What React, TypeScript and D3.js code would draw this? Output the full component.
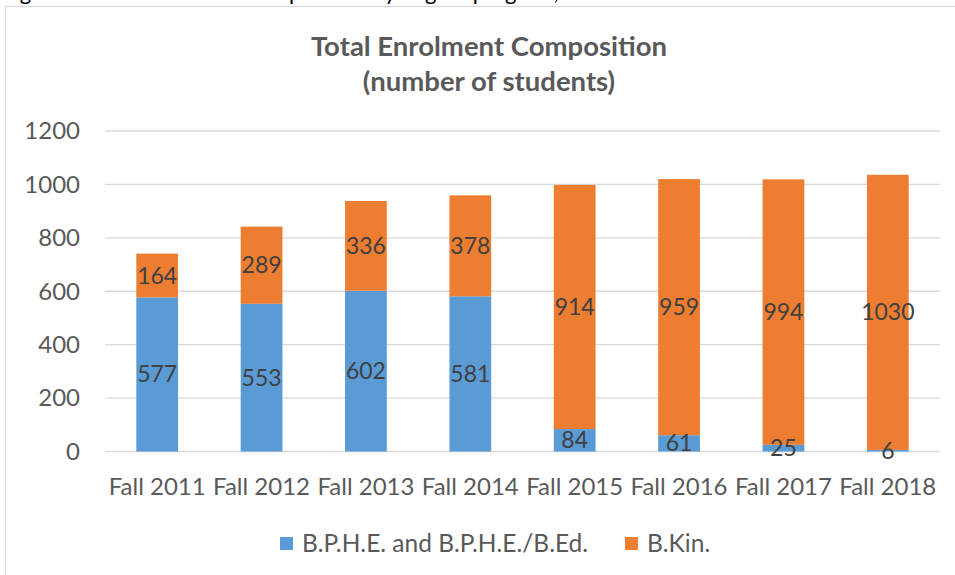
import React, { useEffect, useRef } from "react";
import * as d3 from "d3";

const categories = ["Fall 2011", "Fall 2012", "Fall 2013", "Fall 2014", "Fall 2015", "Fall 2016", "Fall 2017", "Fall 2018"];
const bphe = [577, 553, 602, 581, 84, 61, 25, 6];
const bkin = [164, 289, 336, 378, 914, 959, 994, 1030];
const seriesNames = ["B.P.H.E. and B.P.H.E./B.Ed.", "B.Kin."];
const colors = ["#5B9BD5", "#ED7D31"];
const yTicks = [0, 200, 400, 600, 800, 1000, 1200];

export default function App() {
  const ref = useRef<SVGSVGElement | null>(null);

  useEffect(() => {
    const width = 955, height = 575;
    const margin = { top: 131, right: 15, bottom: 124, left: 105 };
    const w = width - margin.left - margin.right;
    const h = height - margin.top - margin.bottom;
    const font = "Lato, 'Open Sans', sans-serif";

    const svg = d3.select(ref.current);
    svg.selectAll("*").remove();
    svg.attr("width", width).attr("height", height).attr("viewBox", `0 0 ${width} ${height}`);

    svg.append("rect").attr("width", width).attr("height", height).attr("fill", "#fff");

    // caption line above the chart, cut off by the top edge as in the source
    svg.append("text").attr("x", 2).attr("y", 0).attr("font-family", font).attr("font-size", 22).attr("fill", "#000")
      .text("Figure 4: Total enrolment composition by degree program, Fall 2011 to Fall 2018");

    // chart frame
    svg.append("rect").attr("x", 5.5).attr("y", 6.5).attr("width", width + 10).attr("height", height + 10)
      .attr("fill", "#fff").attr("stroke", "#D9D9D9").attr("stroke-width", 1.3);

    const title = svg.append("text").attr("text-anchor", "middle").attr("font-family", font)
      .attr("font-weight", "bold").attr("font-size", 27.5).attr("fill", "#595959");
    title.append("tspan").attr("x", 489).attr("y", 56).text("Total Enrolment Composition");
    title.append("tspan").attr("x", 489).attr("y", 91).text("(number of students)");

    const g = svg.append("g").attr("transform", `translate(${margin.left},${margin.top})`);

    const x = d3.scaleBand().domain(categories).range([0, w]).paddingInner(0.6).paddingOuter(0.3);
    const y = d3.scaleLinear().domain([0, 1200]).range([h + 0.5, 0]);

    g.selectAll("line.grid").data(yTicks).enter().append("line")
      .attr("x1", 0).attr("x2", w).attr("y1", d => y(d)).attr("y2", d => y(d))
      .attr("stroke", "#D9D9D9").attr("stroke-width", 1.3);

    g.selectAll("text.ytick").data(yTicks).enter().append("text")
      .attr("x", -25).attr("y", d => y(d)).attr("dy", "0.35em").attr("text-anchor", "end")
      .attr("font-family", font).attr("font-size", 24).attr("fill", "#595959").text(d => d);

    const stack = categories.map((c, i) => ({ c, vals: [bphe[i], bkin[i]] }));
    stack.forEach(d => {
      let base = 0;
      d.vals.forEach((v, k) => {
        const y0 = y(base), y1 = y(base + v);
        g.append("rect").attr("x", x(d.c)!).attr("width", x.bandwidth())
          .attr("y", y1).attr("height", y0 - y1).attr("fill", colors[k]);
        base += v;
      });
    });
    // data labels, centred on each segment
    stack.forEach(d => {
      let base = 0;
      d.vals.forEach(v => {
        g.append("text").attr("x", x(d.c)! + x.bandwidth() / 2).attr("y", y(base + v / 2)).attr("dy", "0.35em")
          .attr("text-anchor", "middle").attr("font-family", font).attr("font-size", 23).attr("fill", "#404040")
          .text(v);
        base += v;
      });
    });

    g.selectAll("text.xtick").data(categories).enter().append("text")
      .attr("x", d => x(d)! + x.bandwidth() / 2).attr("y", h + 36).attr("dy", "0.35em").attr("text-anchor", "middle")
      .attr("font-family", font).attr("font-size", 24).attr("fill", "#595959").text(d => d);

    // legend
    const legend = svg.append("g").attr("transform", "translate(0,543)");
    const items = [{ x: 280 }, { x: 625 }];
    items.forEach((it, i) => {
      legend.append("rect").attr("x", it.x).attr("y", -6).attr("width", 13).attr("height", 13).attr("fill", colors[i]);
      legend.append("text").attr("x", it.x + 22).attr("y", 0).attr("dy", "0.35em").attr("font-family", font)
        .attr("font-size", 24.5).attr("fill", "#595959").text(seriesNames[i]);
    });
  }, []);

  return (
    <div style={{ position: "absolute", left: 0, top: 0 }}>
      <svg ref={ref} style={{ display: "block" }} />
    </div>
  );
}
